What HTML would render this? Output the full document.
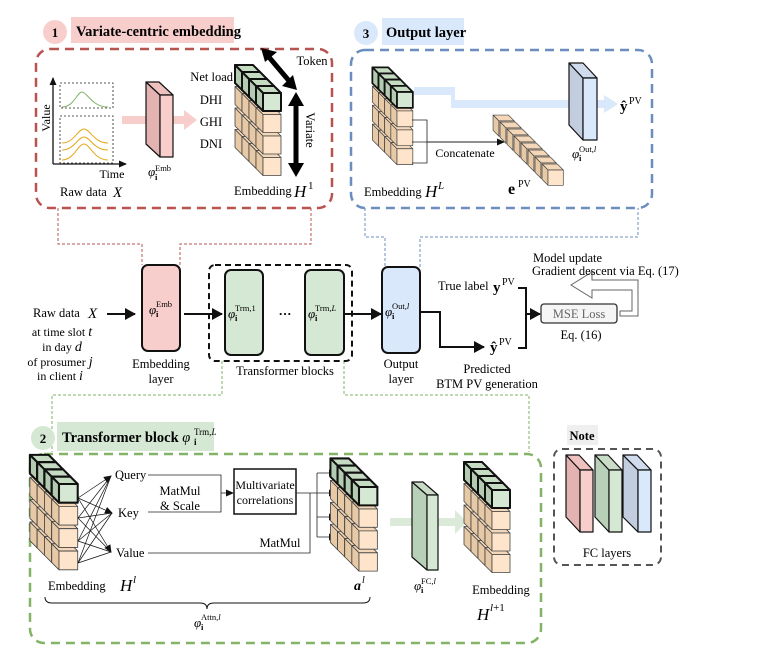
<!DOCTYPE html>
<html><head><meta charset="utf-8"><style>
html,body{margin:0;padding:0;background:#fff;}
svg{display:block;font-family:"Liberation Serif",serif;}
</style></head><body>
<svg width="758" height="657" viewBox="0 0 758 657" xmlns="http://www.w3.org/2000/svg">
<defs>
<g id="cB" stroke="#444" stroke-width="0.8" stroke-linejoin="round">
<polygon points="0,0 18,0 11,-7 -7,-7" fill="#f3d7b8"/>
<polygon points="0,0 0,18 -7,11 -7,-7" fill="#e7c9a6"/>
<rect x="0" y="0" width="18" height="18" fill="#fde4ca"/>
</g>
<g id="cG" stroke="#111" stroke-width="2" stroke-linejoin="round">
<polygon points="0,0 18,0 11,-7 -7,-7" fill="#c5dcc3"/>
<polygon points="0,0 0,18 -7,11 -7,-7" fill="#b3ccb1"/>
<rect x="0" y="0" width="18" height="18" fill="#d5e8d4"/>
</g>
<g id="rowB"><use href="#cB" x="-21" y="-21"/><use href="#cB" x="-14" y="-14"/><use href="#cB" x="-7" y="-7"/><use href="#cB" x="0" y="0"/></g>
<g id="rowG"><use href="#cG" x="-21" y="-21"/><use href="#cG" x="-14" y="-14"/><use href="#cG" x="-7" y="-7"/><use href="#cG" x="0" y="0"/></g>
<g id="stack">
<use href="#rowB" x="0" y="64.5"/><use href="#rowB" x="0" y="43"/><use href="#rowB" x="0" y="21.5"/><use href="#rowG" x="0" y="0"/>
</g>
<marker id="ah" markerWidth="8" markerHeight="8" refX="7" refY="4" orient="auto" markerUnits="userSpaceOnUse"><path d="M0,0.5 L8,4 L0,7.5 Z" fill="#111"/></marker>
<marker id="ahb" markerWidth="12" markerHeight="12" refX="10" refY="6" orient="auto" markerUnits="userSpaceOnUse"><path d="M0,0 L11,6 L0,12 Z" fill="#111"/></marker>
</defs>

<!-- ===== Box 1 ===== -->
<circle cx="55" cy="32" r="12" fill="#f8cecc"/>
<text x="55" y="37" font-size="13" font-weight="bold" text-anchor="middle">1</text>
<rect x="71" y="17" width="163" height="26" fill="#f8cecc"/>
<text x="76" y="36" font-size="14.5" font-weight="bold">Variate-centric embedding</text>
<rect x="36" y="49" width="296" height="159" rx="14" fill="none" stroke="#b85450" stroke-width="2.5" stroke-dasharray="9,6"/>

<rect x="60" y="83" width="53" height="25" fill="none" stroke="#222" stroke-width="0.8" stroke-dasharray="2,2"/>
<rect x="60" y="116" width="53" height="47" fill="none" stroke="#222" stroke-width="0.8" stroke-dasharray="2,2"/>
<path d="M62,107 C74,107 77,92 82,92 S92,107 108,107" fill="none" stroke="#82b366" stroke-width="1"/>
<path d="M62,143 C74,143 78,129 84,129 S94,143 108,143" fill="none" stroke="#e6a817" stroke-width="1"/>
<path d="M62,150 C74,150 78,137 84,137 S94,150 108,150" fill="none" stroke="#e6a817" stroke-width="1"/>
<path d="M62,160 C74,160 78,144 84,144 S94,160 108,160" fill="none" stroke="#e6a817" stroke-width="1"/>
<line x1="53" y1="164" x2="53" y2="78" stroke="#111" stroke-width="1.3" marker-end="url(#ah)"/>
<line x1="53" y1="164" x2="126" y2="164" stroke="#111" stroke-width="1.3" marker-end="url(#ah)"/>
<text x="0" y="0" font-size="12" text-anchor="middle" transform="translate(50,118) rotate(-90)">Value</text>
<text x="112" y="178" font-size="12" text-anchor="middle">Time</text>
<text x="60" y="196" font-size="12.5">Raw data</text>
<text x="113" y="197" font-size="15" font-style="italic">X</text>

<rect x="122" y="116" width="30" height="8" fill="#f8cecc"/>
<rect x="172" y="116" width="14" height="8" fill="#f8cecc"/>
<polygon points="184,110 197,120 184,130" fill="#f8cecc"/>
<g stroke="#111" stroke-width="1.2" stroke-linejoin="round">
<polygon points="146,82 160,95 160,157 146,144" fill="#e3b3b1"/>
<polygon points="146,82 159,82 173,95 160,95" fill="#eec1bf"/>
<rect x="160" y="95" width="13" height="62" fill="#f8cecc"/>
</g>
<text x="148" y="176" font-size="13" font-style="italic">φ</text>
<text x="155" y="171" font-size="8.5">Emb</text>
<text x="155" y="180" font-size="8.5" font-weight="bold">i</text>

<text x="233" y="81" font-size="12.5" text-anchor="end">Net load</text>
<text x="211" y="104" font-size="12.5" text-anchor="middle">DHI</text>
<text x="211" y="126" font-size="12.5" text-anchor="middle">GHI</text>
<text x="211" y="148" font-size="12.5" text-anchor="middle">DNI</text>
<use href="#stack" transform="translate(263,93)"/>
<line x1="268" y1="56" x2="290" y2="82" stroke="#000" stroke-width="5"/>
<polygon points="261,48 277,52 265,62" fill="#000"/>
<polygon points="297,90 293,75 282,86" fill="#000"/>
<line x1="296" y1="104" x2="296" y2="166" stroke="#000" stroke-width="5"/>
<polygon points="296,92 288,106 304,106" fill="#000"/>
<polygon points="296,177 288,163 304,163" fill="#000"/>
<text x="312" y="65" font-size="12.5" text-anchor="middle">Token</text>
<text x="0" y="0" font-size="12.5" text-anchor="middle" transform="translate(306,130) rotate(90)">Variate</text>
<text x="234" y="195" font-size="12.5">Embedding</text>
<text x="294" y="197" font-size="17" font-style="italic">H</text>
<text x="308" y="189" font-size="11">1</text>

<!-- ===== Box 3 ===== -->
<circle cx="366" cy="33" r="12" fill="#dae8fc"/>
<text x="366" y="38" font-size="13" font-weight="bold" text-anchor="middle">3</text>
<rect x="382" y="18" width="82" height="27" fill="#dae8fc"/>
<text x="386" y="37" font-size="14.5" font-weight="bold">Output layer</text>
<rect x="351" y="50" width="301" height="158" rx="14" fill="none" stroke="#6c8ebf" stroke-width="2.5" stroke-dasharray="9,6"/>
<polygon points="414,87 455,87 455,100 604,100 604,95 618,104 604,113 604,108 451,108 451,95 414,95" fill="#dae8fc"/>
<use href="#stack" transform="translate(397,92) scale(0.88)"/>
<path d="M412,120 H427 V163 H412 M412,142 H427" fill="none" stroke="#222" stroke-width="0.8"/>
<line x1="427" y1="142" x2="504" y2="142" stroke="#222" stroke-width="0.9" marker-end="url(#ah)"/>
<text x="465" y="157" font-size="12" text-anchor="middle">Concatenate</text>
<g>
<use href="#cB" transform="translate(499,121) scale(0.85)"/>
<use href="#cB" transform="translate(506,128) scale(0.85)"/>
<use href="#cB" transform="translate(513,135) scale(0.85)"/>
<use href="#cB" transform="translate(520,142) scale(0.85)"/>
<use href="#cB" transform="translate(527,149) scale(0.85)"/>
<use href="#cB" transform="translate(534,156) scale(0.85)"/>
<use href="#cB" transform="translate(541,163) scale(0.85)"/>
<use href="#cB" transform="translate(548,170) scale(0.85)"/>
</g>
<text x="508" y="194" font-size="16" font-weight="bold">e</text>
<text x="518" y="187" font-size="10">PV</text>
<text x="364" y="196" font-size="12.5">Embedding</text>
<text x="425" y="197" font-size="17" font-style="italic">H</text>
<text x="438" y="189" font-size="11" font-style="italic">L</text>
<g stroke="#111" stroke-width="1.2" stroke-linejoin="round">
<polygon points="569,63 583,78 583,140 569,125" fill="#c3cde0"/>
<polygon points="569,63 583,63 597,78 583,78" fill="#d0dbee"/>
<rect x="583" y="78" width="14" height="62" fill="#dae8fc"/>
</g>
<text x="572" y="158" font-size="13" font-style="italic">φ</text>
<text x="579" y="152" font-size="8.5">Out,<tspan font-style="italic">l</tspan></text>
<text x="579" y="161" font-size="8.5" font-weight="bold">i</text>
<text x="620" y="111" font-size="15" font-weight="bold">ŷ</text>
<text x="629" y="104" font-size="10">PV</text>

<path d="M58,208 V244 H142 V265 M180,265 V244 H311 V208" fill="none" stroke="#b85450" stroke-width="1" stroke-dasharray="3,2"/>
<path d="M365,208 V237 H385 V267 M420,267 V237 H638 V208" fill="none" stroke="#6c8ebf" stroke-width="1" stroke-dasharray="3,2"/>
<path d="M222,361 V395 H52 V452 M344,361 V395 H529 V452" fill="none" stroke="#82b366" stroke-width="1" stroke-dasharray="3,2"/>

<!-- ===== Middle ===== -->
<text x="33" y="317" font-size="12.5">Raw data</text>
<text x="88" y="318" font-size="15" font-style="italic">X</text>
<text x="62" y="336" font-size="12" text-anchor="middle">at time slot <tspan font-style="italic" font-size="14">t</tspan></text>
<text x="62" y="351" font-size="12" text-anchor="middle">in day <tspan font-style="italic" font-size="14">d</tspan></text>
<text x="60" y="366" font-size="12" text-anchor="middle">of prosumer <tspan font-style="italic" font-size="14">j</tspan></text>
<text x="60" y="380" font-size="12" text-anchor="middle">in client <tspan font-style="italic" font-size="14">i</tspan></text>
<line x1="107" y1="314" x2="135" y2="314" stroke="#111" stroke-width="2" marker-end="url(#ahb)"/>
<rect x="142" y="265" width="38" height="86" rx="6" fill="#f8cecc" stroke="#111" stroke-width="2"/>
<text x="149" y="314" font-size="13" font-style="italic">φ</text>
<text x="156" y="307" font-size="8.5">Emb</text>
<text x="156" y="317" font-size="8.5" font-weight="bold">i</text>
<text x="161" y="368" font-size="12.5" text-anchor="middle">Embedding</text>
<text x="161" y="383" font-size="12.5" text-anchor="middle">layer</text>
<line x1="184" y1="314" x2="222" y2="314" stroke="#111" stroke-width="2" marker-end="url(#ahb)"/>
<rect x="209" y="265" width="143" height="96" rx="6" fill="none" stroke="#111" stroke-width="2" stroke-dasharray="6,4"/>
<rect x="225" y="270" width="38" height="85" rx="6" fill="#d5e8d4" stroke="#111" stroke-width="2"/>
<rect x="305" y="270" width="39" height="85" rx="6" fill="#d5e8d4" stroke="#111" stroke-width="2"/>
<text x="228" y="318" font-size="13" font-style="italic">φ</text>
<text x="235" y="311" font-size="8.5">Trm,1</text>
<text x="235" y="321" font-size="8.5" font-weight="bold">i</text>
<text x="308" y="318" font-size="13" font-style="italic">φ</text>
<text x="315" y="311" font-size="8.5">Trm,<tspan font-style="italic">L</tspan></text>
<text x="315" y="321" font-size="8.5" font-weight="bold">i</text>
<text x="285" y="318" font-size="13" font-weight="bold" text-anchor="middle">···</text>
<text x="285" y="375" font-size="12.5" text-anchor="middle">Transformer blocks</text>
<line x1="344" y1="314" x2="381" y2="314" stroke="#111" stroke-width="2" marker-end="url(#ahb)"/>
<rect x="382" y="267" width="38" height="86" rx="6" fill="#dae8fc" stroke="#111" stroke-width="2"/>
<text x="385" y="316" font-size="13" font-style="italic">φ</text>
<text x="392" y="309" font-size="8.5">Out,<tspan font-style="italic">l</tspan></text>
<text x="392" y="319" font-size="8.5" font-weight="bold">i</text>
<text x="401" y="368" font-size="12.5" text-anchor="middle">Output</text>
<text x="401" y="383" font-size="12.5" text-anchor="middle">layer</text>
<path d="M420,312 H440 V347 H484" fill="none" stroke="#111" stroke-width="2" marker-end="url(#ahb)"/>
<text x="438" y="290" font-size="12.5">True label</text>
<text x="493" y="292" font-size="15" font-weight="bold">y</text>
<text x="502" y="285" font-size="10">PV</text>
<text x="490" y="352" font-size="15" font-weight="bold">ŷ</text>
<text x="499" y="345" font-size="10">PV</text>
<path d="M518,288 H526 V348 H518" fill="none" stroke="#111" stroke-width="2"/>
<line x1="526" y1="314" x2="540" y2="314" stroke="#111" stroke-width="2" marker-end="url(#ahb)"/>
<text x="487" y="373" font-size="12.5" text-anchor="middle">Predicted</text>
<text x="487" y="388" font-size="12.5" text-anchor="middle">BTM PV generation</text>
<rect x="541" y="304" width="76" height="19" rx="3" fill="#f5f5f5" stroke="#333" stroke-width="1.3"/>
<text x="579" y="318" font-size="12.5" fill="#666" text-anchor="middle">MSE Loss</text>
<text x="581" y="339" font-size="12.5" text-anchor="middle">Eq. (16)</text>
<polygon points="620,311 632,311 632,290 592,290 592,298 571,285 592,272 592,280 638,280 638,316 620,316" fill="#fff" stroke="#666" stroke-width="1"/>
<text x="533" y="262" font-size="12.5">Model update</text>
<text x="532" y="275" font-size="12.5">Gradient descent via Eq. (17)</text>

<!-- ===== Box 2 ===== -->
<circle cx="43" cy="438" r="12" fill="#d5e8d4"/>
<text x="43" y="443" font-size="13" font-weight="bold" text-anchor="middle">2</text>
<rect x="57" y="422" width="157" height="29" fill="#d5e8d4"/>
<text x="62" y="442" font-size="14.5" font-weight="bold">Transformer block <tspan font-style="italic" font-weight="normal">φ</tspan></text>
<text x="194" y="435" font-size="9">Trm,<tspan font-style="italic">L</tspan></text>
<text x="194" y="445" font-size="9" font-weight="bold">i</text>
<rect x="30" y="454" width="511" height="189" rx="14" fill="none" stroke="#82b366" stroke-width="2.5" stroke-dasharray="9,6"/>

<use href="#stack" transform="translate(59,484) scale(1.04)"/>
<g stroke="#111" stroke-width="0.7">
<line x1="78" y1="498" x2="111" y2="476" marker-end="url(#ah)"/>
<line x1="78" y1="498" x2="112" y2="513" marker-end="url(#ah)"/>
<line x1="78" y1="498" x2="111" y2="552" marker-end="url(#ah)"/>
<line x1="78" y1="518" x2="111" y2="476"/>
<line x1="78" y1="518" x2="112" y2="513"/>
<line x1="78" y1="518" x2="111" y2="552"/>
<line x1="78" y1="541" x2="111" y2="476"/>
<line x1="78" y1="541" x2="112" y2="513"/>
<line x1="78" y1="541" x2="111" y2="552"/>
<line x1="78" y1="563" x2="111" y2="476"/>
<line x1="78" y1="563" x2="112" y2="513"/>
<line x1="78" y1="563" x2="111" y2="552"/>
</g>
<text x="115" y="479" font-size="12.5">Query</text>
<text x="118" y="517" font-size="12.5">Key</text>
<text x="116" y="557" font-size="12.5">Value</text>
<path d="M148,475 H221 V493 M148,512 H221 V493" fill="none" stroke="#222" stroke-width="0.8"/>
<line x1="221" y1="493" x2="233" y2="493" stroke="#222" stroke-width="0.8" marker-end="url(#ah)"/>
<text x="180" y="495" font-size="12.5" text-anchor="middle">MatMul</text>
<text x="180" y="510" font-size="12.5" text-anchor="middle">&amp; Scale</text>
<rect x="234" y="469" width="62" height="45" fill="#fff" stroke="#111" stroke-width="1.5"/>
<text x="265" y="489" font-size="12" text-anchor="middle">Multivariate</text>
<text x="265" y="504" font-size="12" text-anchor="middle">correlations</text>
<path d="M296,493 H310 M148,553 H310 V493 M317,473 V537" fill="none" stroke="#222" stroke-width="0.8"/>
<line x1="317" y1="473" x2="336" y2="473" stroke="#222" stroke-width="0.8" marker-end="url(#ah)"/>
<line x1="310" y1="493" x2="336" y2="493" stroke="#222" stroke-width="0.8" marker-end="url(#ah)"/>
<line x1="317" y1="517" x2="336" y2="517" stroke="#222" stroke-width="0.8" marker-end="url(#ah)"/>
<line x1="317" y1="537" x2="336" y2="537" stroke="#222" stroke-width="0.8" marker-end="url(#ah)"/>
<text x="280" y="547" font-size="12.5" text-anchor="middle">MatMul</text>
<use href="#stack" transform="translate(359,487) scale(1.02)"/>
<rect x="390" y="518" width="25" height="8" fill="#dcebd9"/>
<rect x="437" y="518" width="20" height="8" fill="#dcebd9"/>
<polygon points="455,510 467,522 455,534" fill="#dcebd9"/>
<g stroke="#111" stroke-width="1.2" stroke-linejoin="round">
<polygon points="412,482 427,495 427,570 412,557" fill="#b9d0b8"/>
<polygon points="412,482 423,482 438,495 427,495" fill="#c8dcc6"/>
<rect x="427" y="495" width="11" height="75" fill="#d5e8d4"/>
</g>
<use href="#stack" transform="translate(492,490) scale(1.0)"/>
<text x="48" y="590" font-size="12.5">Embedding</text>
<text x="120" y="591" font-size="17" font-style="italic">H</text>
<text x="133" y="583" font-size="11" font-style="italic">l</text>
<text x="354" y="590" font-size="14" font-weight="bold" font-style="italic">a</text>
<text x="362" y="583" font-size="10" font-style="italic">l</text>
<text x="414" y="590" font-size="13" font-style="italic">φ</text>
<text x="421" y="584" font-size="8.5">FC,<tspan font-style="italic">l</tspan></text>
<text x="421" y="593" font-size="8.5" font-weight="bold">i</text>
<text x="501" y="594" font-size="12.5" text-anchor="middle">Embedding</text>
<text x="477" y="620" font-size="17" font-style="italic">H</text>
<text x="490" y="611" font-size="11"><tspan font-style="italic">l</tspan>+1</text>
<path d="M45,597 Q45,603 52,603 H200 Q207,603 207,609 Q207,603 214,603 H363 Q370,603 370,597" fill="none" stroke="#111" stroke-width="1"/>
<text x="194" y="627" font-size="13" font-style="italic">φ</text>
<text x="201" y="620" font-size="8.5">Attn,<tspan font-style="italic">l</tspan></text>
<text x="201" y="630" font-size="8.5" font-weight="bold">i</text>

<!-- ===== Note ===== -->
<rect x="567" y="425" width="31" height="20" fill="#efefef"/>
<text x="582" y="440" font-size="12.5" font-weight="bold" text-anchor="middle">Note</text>
<rect x="554" y="449" width="107" height="116" rx="8" fill="none" stroke="#555" stroke-width="2" stroke-dasharray="7,5"/>
<g stroke="#111" stroke-width="1.2" stroke-linejoin="round">
<polygon points="566,455 580,470 580,532 566,517" fill="#e3b3b1"/>
<polygon points="566,455 579,455 593,470 580,470" fill="#eec1bf"/>
<rect x="580" y="470" width="13" height="62" fill="#f8cecc"/>
<polygon points="595,455 609,470 609,532 595,517" fill="#b9d0b8"/>
<polygon points="595,455 608,455 622,470 609,470" fill="#c8dcc6"/>
<rect x="609" y="470" width="13" height="62" fill="#d5e8d4"/>
<polygon points="623,455 638,470 638,532 623,517" fill="#c3cde0"/>
<polygon points="623,455 637,455 651,470 638,470" fill="#d0dbee"/>
<rect x="638" y="470" width="13" height="62" fill="#dae8fc"/>
</g>
<text x="607" y="557" font-size="12.5" text-anchor="middle">FC layers</text>
</svg>
</body></html>
